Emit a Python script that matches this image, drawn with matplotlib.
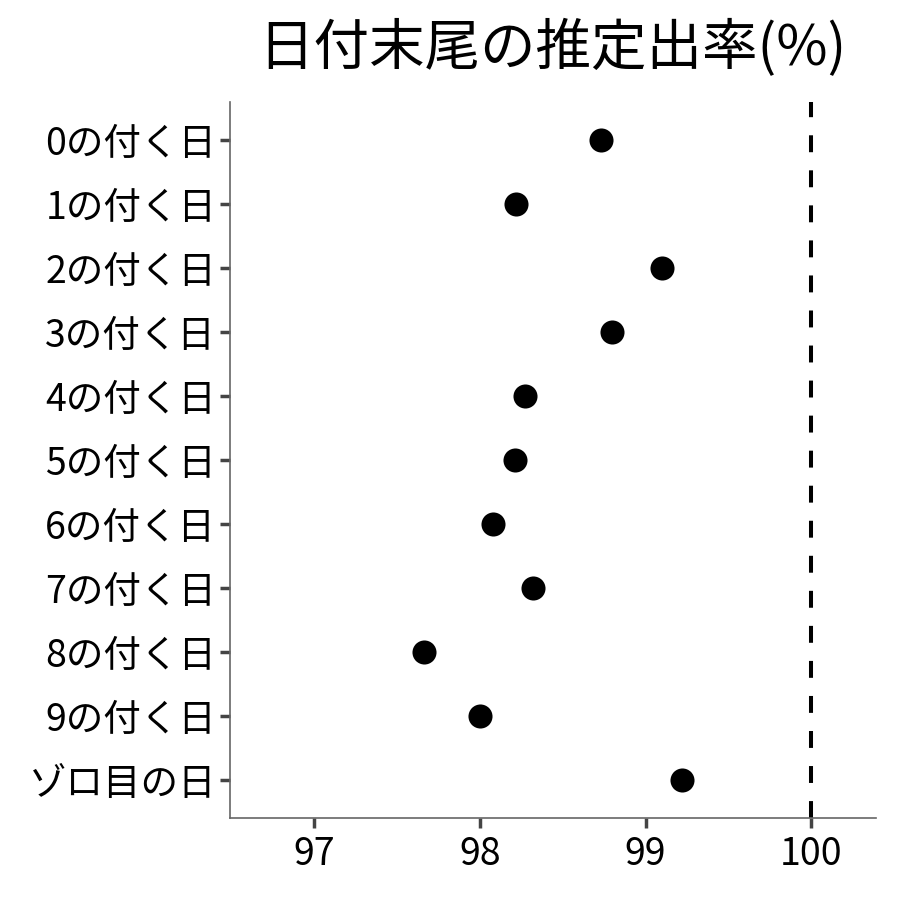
import matplotlib.pyplot as plt

plt.rcParams["font.family"] = ["Noto Sans CJK JP", "DejaVu Sans"]

LABELS = [
    "0の付く日", "1の付く日", "2の付く日", "3の付く日", "4の付く日",
    "5の付く日", "6の付く日", "7の付く日", "8の付く日", "9の付く日",
    "ゾロ目の日",
]
RATES = [98.73, 98.22, 99.10, 98.80, 98.27, 98.21, 98.08, 98.32, 97.66, 98.00, 99.22]
X_TICKS = [97, 98, 99, 100]
REF_LINE = 100

fig = plt.figure(figsize=(9, 9), dpi=100)
ax = fig.add_axes([0.2556, 0.091, 0.7174, 0.796])

y = list(range(len(LABELS)))
ax.scatter(RATES, y, s=300, color="black", zorder=3, linewidths=0)
ax.axvline(REF_LINE, color="black", linestyle=(0, (4.2, 4.5)), linewidth=2.9)

ax.set_yticks(y, LABELS)
ax.set_ylim(len(LABELS) - 0.4, -0.6)
ax.set_xticks(X_TICKS, [str(t) for t in X_TICKS])
ax.set_xlim(96.49, 100.39)

for side in ["top", "right"]:
    ax.spines[side].set_visible(False)
for side in ["left", "bottom"]:
    ax.spines[side].set_color("#666666")
    ax.spines[side].set_linewidth(1.2)
ax.tick_params(axis="both", colors="#444444", length=7, width=2.5,
               labelsize=27, labelcolor="black")
ax.tick_params(axis="x", pad=5)
ax.tick_params(axis="y", pad=3)

ax.set_title("日付末尾の推定出率(%)", fontsize=40, pad=26)

fig.savefig("out.png", dpi=100)
